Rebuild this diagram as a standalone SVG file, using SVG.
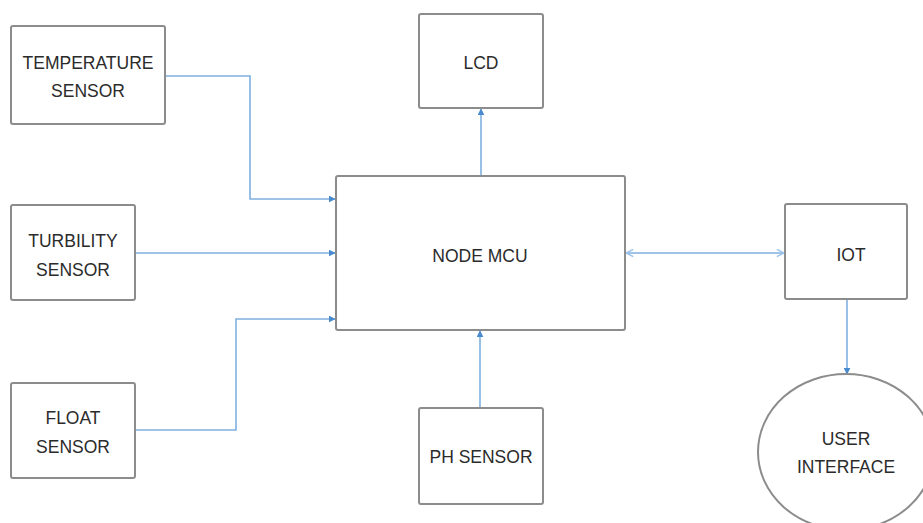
<svg xmlns="http://www.w3.org/2000/svg" width="923" height="523" viewBox="0 0 923 523">
<defs>
<style>
.box{fill:#ffffff;stroke:#8c8c8c;stroke-width:2}
.lbl{font-family:"Liberation Sans",Arial,sans-serif;font-size:17.5px;fill:#2b2b2b;text-anchor:middle}
.con{fill:none;stroke:#7fb0e0;stroke-width:1.6}
</style>
<marker id="ah" viewBox="0 0 10 10" refX="9" refY="5" markerWidth="7" markerHeight="7" markerUnits="userSpaceOnUse" orient="auto">
<path d="M0,0 L10,5 L0,10 z" fill="#4a8bd0"/>
</marker>
<marker id="oa" viewBox="0 0 10 10" refX="9" refY="5" markerWidth="9" markerHeight="9" markerUnits="userSpaceOnUse" orient="auto-start-reverse">
<path d="M1,1 L9,5 L1,9" fill="none" stroke="#9cc3ea" stroke-width="1.6"/>
</marker>
</defs>
<rect width="923" height="523" fill="#ffffff"/>
<g id="connectors">
<path class="con" d="M165,76 H250 V199 H335" marker-end="url(#ah)"/>
<path class="con" d="M135,253 H335" marker-end="url(#ah)"/>
<path class="con" d="M135,430 H236 V319 H335" marker-end="url(#ah)"/>
<path class="con" d="M481,176 V109" marker-end="url(#ah)"/>
<path class="con" d="M480,408 V331" marker-end="url(#ah)"/>
<path class="con" d="M626,253 H784" marker-start="url(#oa)" marker-end="url(#oa)"/>
<path class="con" d="M847,299 V374" marker-end="url(#ah)"/>
</g>
<g id="temperature">
<rect class="box" x="11" y="26" width="154" height="98" rx="2"/>
<text class="lbl" x="88" y="69">TEMPERATURE</text>
<text class="lbl" x="88" y="97">SENSOR</text>
</g>
<g id="turbidity">
<rect class="box" x="11" y="205" width="124" height="95" rx="2"/>
<text class="lbl" x="73" y="247">TURBILITY</text>
<text class="lbl" x="73" y="276">SENSOR</text>
</g>
<g id="float">
<rect class="box" x="11" y="383" width="124" height="95" rx="2"/>
<text class="lbl" x="73" y="424">FLOAT</text>
<text class="lbl" x="73" y="453">SENSOR</text>
</g>
<g id="lcd">
<rect class="box" x="419" y="14" width="124" height="94" rx="2"/>
<text class="lbl" x="481" y="69">LCD</text>
</g>
<g id="nodemcu">
<rect class="box" x="336" y="176" width="289" height="154" rx="2"/>
<text class="lbl" x="480" y="262">NODE MCU</text>
</g>
<g id="ph">
<rect class="box" x="419" y="408" width="124" height="96" rx="2"/>
<text class="lbl" x="481" y="463">PH SENSOR</text>
</g>
<g id="iot">
<rect class="box" x="785" y="204" width="122" height="95" rx="2"/>
<text class="lbl" x="851" y="261">IOT</text>
</g>
<g id="userinterface">
<ellipse class="box" cx="846" cy="452" rx="88" ry="78"/>
<text class="lbl" x="846" y="445">USER</text>
<text class="lbl" x="846" y="473">INTERFACE</text>
</g>
</svg>
